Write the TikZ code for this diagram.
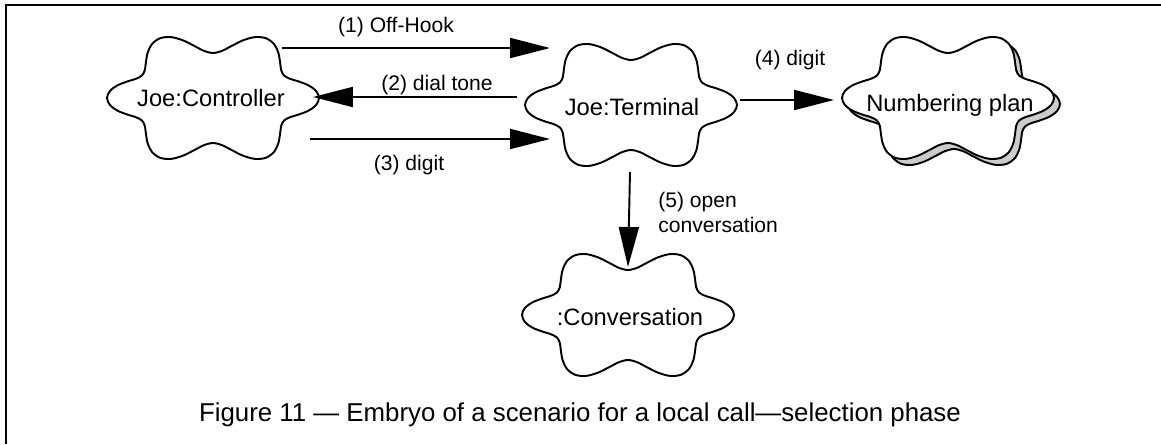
\documentclass[tikz,border=0pt]{standalone}
\usepackage{fontspec}
\setmainfont{Liberation Sans}
\usetikzlibrary{arrows.meta,backgrounds,calc}
\tikzset{
  obj/.style={inner sep=0pt,font=\fontsize{13.5}{16}\selectfont},
  cloudline/.style={draw,line width=1.1pt,fill=white},
  shadowline/.style={cloudline,fill=gray!40},
  msg/.style={-{Triangle[length=8mm,width=4mm]},line width=1.1pt},
  mlabel/.style={font=\fontsize{12}{14.2}\selectfont,inner sep=0pt},
  caption/.style={font=\fontsize{14.7}{17}\selectfont,inner sep=0pt},
}
\newcommand{\cloudat}[2][cloudline]{%
  \draw[#1,shift={(#2)}] plot[smooth cycle,domain=0:354,samples=60]
    ({(94+12*cos(6*\x))*cos(\x)},{(57+12*cos(6*\x))*sin(\x)});}

\begin{document}
\begin{tikzpicture}[x=0.02cm,y=-0.02cm]
  \useasboundingbox (0,0) rectangle (1161,444);
  % ---- frame ----
  \coordinate (fTop) at (1161,5);
  \coordinate (fCorner) at (6,5);
  \coordinate (fBot) at (6,444);
  \draw[line width=0.8pt] (fTop) -- (fCorner) -- (fBot);
  % ---- objects ----
  \node[obj] (ctrl) at (211,98) {Joe:Controller};
  \node[obj] (term) at (632,107) {Joe:Terminal};
  \node[obj] (plan) at (950,105) {Numbering plan};
  \node[obj] (conv) at (630,317) {:Conversation};
  % ---- clouds ----
  \begin{scope}[on background layer]
    \cloudat{$(ctrl)+(2,0)$}
    \cloudat{$(term)+(-1,-2)$}
    \cloudat[shadowline]{$(plan)+(4,-1)$}
    \cloudat{$(plan)+(-2,-7)$}
    \cloudat{$(conv)+(-2,-2)$}
  \end{scope}
  % ---- messages ----
  \draw[msg] ([shift={(71,-50)}]ctrl.center) -- ([shift={(-82,-59)}]term.center);
  \draw[msg] ([shift={(-115,-10)}]term.center) -- ([shift={(102,-1)}]ctrl.center);
  \draw[msg] ([shift={(99,41)}]ctrl.center) -- ([shift={(-82,32)}]term.center);
  \draw[msg] ([shift={(108,-7)}]term.center) -- ([shift={(-116,-5)}]plan.center);
  \draw[msg] ([shift={(-2,65)}]term.center) -- ([shift={(-2,-50)}]conv.center);
  % ---- labels ----
  \node[mlabel] (l1) at (396,27) {(1) Off-Hook};
  \node[mlabel] (l2) at (437,85) {(2) dial tone};
  \node[mlabel] (l3) at (409,165) {(3) digit};
  \node[mlabel] (l4) at (790,60) {(4) digit};
  \node[mlabel,align=left,anchor=west] (l5) at (658,212) {(5) open\\conversation};
  \node[caption] (cap) at (580,415) {Figure 11 --- Embryo of a scenario for a local call---selection phase};
\end{tikzpicture}
\end{document}
